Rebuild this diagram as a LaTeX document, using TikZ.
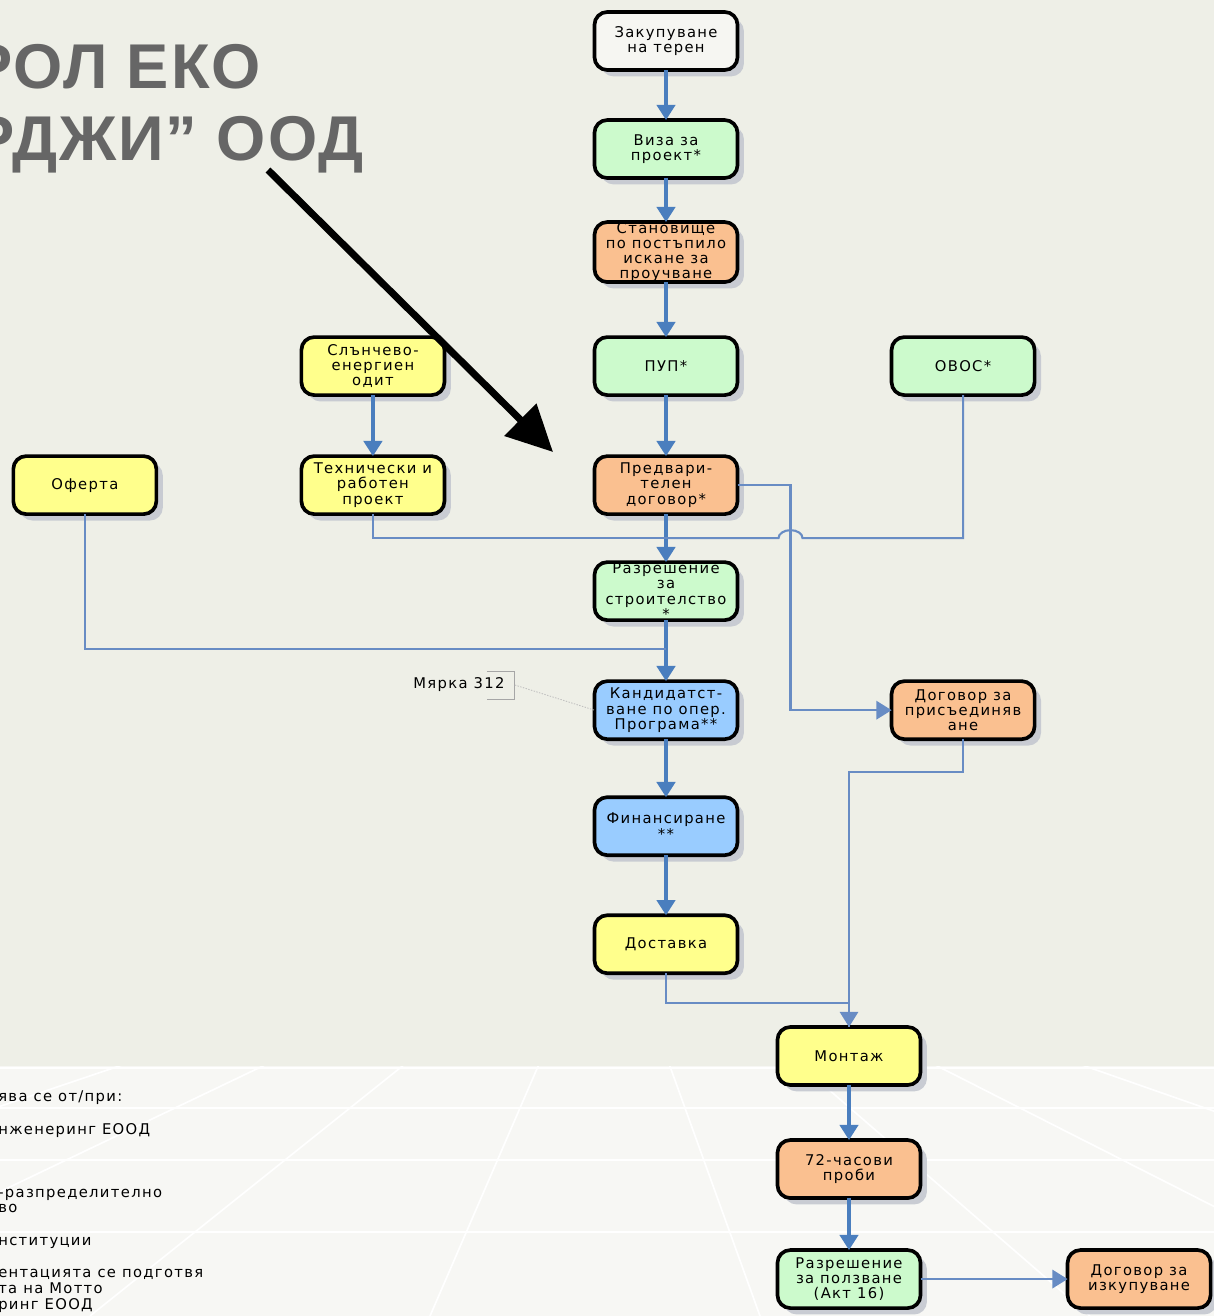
\documentclass[tikz,border=0pt]{standalone}
\usepackage{fontspec}
\setmainfont{Liberation Sans}
\newfontfamily\boxfont[LetterSpace=9]{DejaVu Sans}
\newfontfamily\headfont[LetterSpace=3]{Liberation Sans}
\usetikzlibrary{positioning,calc,arrows.meta,shadows}
\definecolor{bgtop}{RGB}{238,239,231}
\definecolor{bgfloor}{RGB}{247,247,244}
\definecolor{cyellow}{RGB}{255,255,140}
\definecolor{cgreen}{RGB}{204,250,204}
\definecolor{corange}{RGB}{250,192,144}
\definecolor{cblue}{RGB}{153,204,255}
\definecolor{cwhite}{RGB}{246,246,242}
\definecolor{flowblue}{RGB}{74,126,190}
\definecolor{linkblue}{RGB}{104,140,196}
\definecolor{shadowgray}{RGB}{196,200,208}
\definecolor{titlegray}{RGB}{102,102,102}

\begin{document}
\begin{tikzpicture}[x=0.025cm, y=0.025cm,
	stage/.style={rectangle, rounded corners=0.32cm, draw=black, line width=2.6pt, outer sep=0pt, minimum width=3.575cm, minimum height=1.45cm, inner sep=0pt, align=center, font=\boxfont\fontsize{10.5}{10.9}\selectfont, drop shadow={shadow xshift=0.16cm, shadow yshift=-0.16cm, fill=shadowgray, opacity=.9}},
	yel/.style={stage, fill=cyellow}, grn/.style={stage, fill=cgreen},
	org/.style={stage, fill=corange}, blu/.style={stage, fill=cblue}, wht/.style={stage, fill=cwhite},
	flow/.style={draw=flowblue, line width=2.4pt, -{Triangle[width=0.46cm,length=0.38cm]}},
	link/.style={draw=linkblue, line width=1.5pt},
	linkarr/.style={link, -{Triangle[width=0.46cm,length=0.38cm]}},
	callout/.style={line width=5pt, -{Triangle[width=1.1cm,length=1.15cm]}},
	headline/.style={font=\headfont\bfseries\fontsize{45}{50}\selectfont, text=titlegray, inner sep=0pt, anchor=base west},
	footline/.style={font=\boxfont\fontsize{10.5}{12}\selectfont, inner sep=0pt, anchor=base west},
	noteline/.style={draw=gray!70, line width=0.6pt}]
		\useasboundingbox (0,0) rectangle (1214,-1316);
		\clip (0,0) rectangle (1214,-1316);
		\fill[bgtop] (0,0) rectangle (1214,-1066);
		\fill[bgfloor] (0,-1066) rectangle (1214,-1316);
		\begin{scope}
			\clip (0,-1066) rectangle (1214,-1316);
			\foreach \xb in {-1000,-620,-260,90,430,760,1090,1430,1800,2200}
				\draw[white, line width=1.2pt] (610,-900) -- (\xb,-1316);
			\foreach \yl in {1068,1108,1160,1232}
				\draw[white, line width=1.2pt] (0,-\yl) -- (1214,-\yl);
		\end{scope}

		\node[headline] (head1) at (-30,-88) {РОЛ ЕКО};
		\node[headline] (head2) at (-28,-160) {РДЖИ” ООД};

		\node[wht] (zak) at (666,-41) {Закупуване\\на терен};
		\node[grn] (viza)[below = 1.25cm of zak] {Виза за\\проект*};
		\node[org] (stan)[below = 1.1cm of viza] {Становище\\по постъпило\\искане за\\проучване};
		\node[grn] (pup)[below = 1.375cm of stan] {ПУП*};
		\node[org] (predv)[below = 1.525cm of pup] {Предвари-\\телен\\договор*};
		\node[grn] (razstr)[below = 1.2cm of predv] {Разрешение\\за\\строителство\\*};
		\node[blu] (kand)[below = 1.525cm of razstr] {Кандидатст-\\ване по опер.\\Програма**};
		\node[blu] (fin)[below = 1.45cm of kand] {Финансиране\\**};
		\node[yel] (dost)[below = 1.5cm of fin] {Доставка};
		\node[yel] (slnce)[left = 3.75cm of pup] {Слънчево-\\енергиен\\одит};
		\node[grn] (ovos)[right = 3.85cm of pup] {ОВОС*};
		\node[yel] (tech)[left = 3.75cm of predv] {Технически и\\работен\\проект};
		\node[yel] (oferta)[left = 3.625cm of tech] {Оферта};
		\node[org] (dogpris)[right = 3.85cm of kand] {Договор за\\присъединяв\\ане};
		\node[yel] (montazh) at (849,-1056) {Монтаж};
		\node[org] (proby)[below = 1.375cm of montazh] {72-часови\\проби};
		\node[grn] (razpolz)[below = 1.3cm of proby] {Разрешение\\за ползване\\(Акт 16)};
		\node[org] (izkup)[right = 3.675cm of razpolz] {Договор за\\изкупуване};

		\node[font=\boxfont\fontsize{10.5}{12}\selectfont, inner sep=0pt] (myarka) at (459,-685) {Мярка 312};

		\node[footline] (fn1) at (-2,-1101) {ява се от/при:};
		\node[footline] (fn2) at (-2,-1134) {нженеринг ЕООД};
		\node[footline] (fn3) at (-2,-1197) {-разпределително};
		\node[footline] (fn4) at (-2,-1212) {во};
		\node[footline] (fn5) at (-2,-1245) {нституции};
		\node[footline] (fn6) at (-2,-1277) {ентацията се подготвя};
		\node[footline] (fn7) at (-2,-1293) {та на Мотто};
		\node[footline] (fn8) at (-2,-1309) {ринг ЕООД};

		\coordinate (j1) at ($(predv.south)!.5!(razstr.north)$);
		\coordinate (j2) at ($(razstr.south)!.47!(kand.north)$);
		\coordinate (k1) at ($(predv.east)+(53,0)$);

		\draw[flow] (zak) -- (viza);
		\draw[flow] (viza) -- (stan);
		\draw[flow] (stan) -- (pup);
		\draw[flow] (pup) -- (predv);
		\draw[flow] (slnce) -- (tech);
		\draw[flow] (predv) -- (razstr);
		\draw[flow] (razstr) -- (kand);
		\draw[flow] (kand) -- (fin);
		\draw[flow] (fin) -- (dost);
		\draw[flow] (montazh) -- (proby);
		\draw[flow] (proby) -- (razpolz);
		\draw[link] (tech.south) |- (j1);
		\draw[link] (ovos.south) |- ($(k1 |- j1)+(12,0)$) arc[start angle=0, end angle=180, x radius=12, y radius=8] -- (j1);
		\draw[linkarr] (predv.east) -- (k1) |- (dogpris.west);
		\draw[link] (oferta.south) |- (j2);
		\draw[link] (dost.south) -- ++(0,-30) -| (montazh.north);
		\draw[linkarr] (dogpris.south) -- ++(0,-33) -| (montazh.north);
		\draw[linkarr] (razpolz) -- (izkup);

		\draw[noteline] ($(myarka.east)+(-18,14)$) -- ++(28,0) -- ++(0,-28) -- ++(-28,0);
		\draw[noteline, draw=gray!50, dash pattern=on 1pt off 1pt] ($(myarka.east)+(10,0)$) -- (kand.west);

		\draw[callout] (268,-170) -- (553,-452);
	\end{tikzpicture}
\end{document}
